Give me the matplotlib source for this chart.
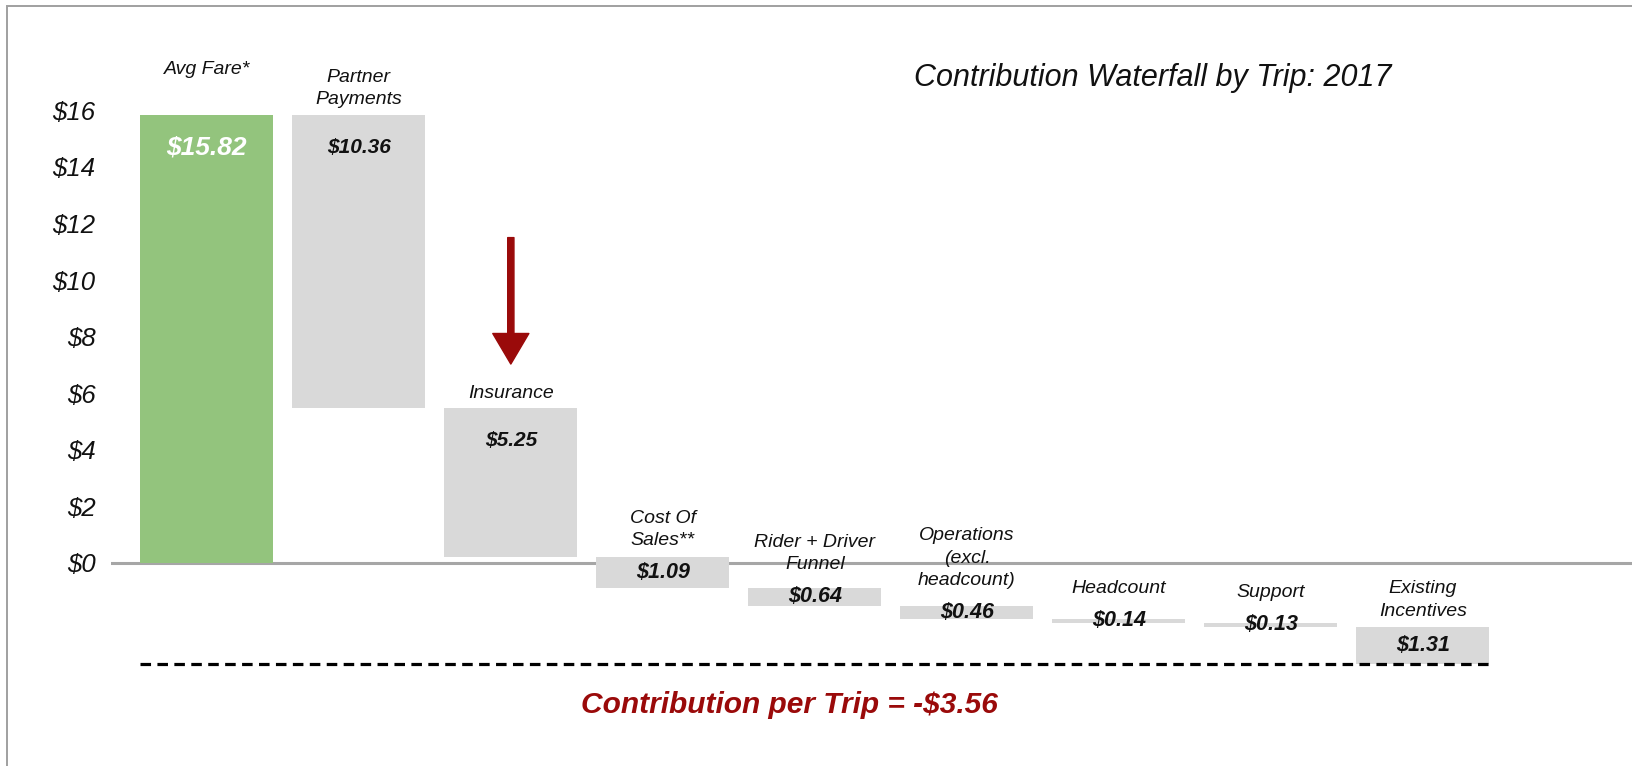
import matplotlib
matplotlib.use("Agg")
import matplotlib.pyplot as plt
from matplotlib.patches import Rectangle, FancyArrowPatch, ArrowStyle
import numpy as np

plt.rcParams["font.family"] = ["Liberation Sans", "DejaVu Sans"]

# ---- data -------------------------------------------------------------
categories = [
    "Avg Fare*",
    "Partner\nPayments",
    "Insurance",
    "Cost Of\nSales**",
    "Rider + Driver\nFunnel",
    "Operations\n(excl.\nheadcount)",
    "Headcount",
    "Support",
    "Existing\nIncentives",
]
amounts = [15.82, -10.36, -5.25, -1.09, -0.64, -0.46, -0.14, -0.13, -1.31]
contribution = -3.56
y_ticks = [0, 2, 4, 6, 8, 10, 12, 14, 16]
title = "Contribution Waterfall by Trip: 2017"

# ---- style --------------------------------------------------------------
GREEN = "#93c47d"
GREY = "#d9d9d9"
DARK_RED = "#9a0a0a"
AXIS_GREY = "#a6a6a6"
TEXT = "#111111"
BAR_W = 0.875

W, H, DPI = 1632, 766, 100
fig = plt.figure(figsize=(W / DPI, H / DPI), dpi=DPI)
fig.patch.set_facecolor("white")

ax_left = 111 / W
ax = fig.add_axes([ax_left, 0.0, 1.0 - ax_left, 1.0])
ax.set_xlim(-0.63, 9.375)
ax.set_ylim(-7.18, 19.90)
ax.set_facecolor("none")
for s in ax.spines.values():
    s.set_visible(False)

# outer frame (left and top edges visible)
fig.add_artist(Rectangle((7 / W, -0.2), 1.2, 1.2 - 6 / H,
                         transform=fig.transFigure, fill=False,
                         edgecolor="#a0a0a0", linewidth=1.4, clip_on=False))

# zero line
ax.axhline(0, color=AXIS_GREY, linewidth=2.2, zorder=1)

# waterfall geometry
x = np.arange(len(amounts))
ends = np.cumsum(amounts)
starts = np.concatenate([[0.0], ends[:-1]])
bottoms = np.minimum(starts, ends)
heights = np.abs(amounts)
colors = [GREEN] + [GREY] * (len(amounts) - 1)

ax.bar(x, heights, bottom=bottoms, width=BAR_W, color=colors,
       edgecolor="none", zorder=2)

# pixels per data unit (for label spacing)
px_per_unit = (fig.get_figheight() * DPI) / (ax.get_ylim()[1] - ax.get_ylim()[0])

for i, (a, b, h) in enumerate(zip(amounts, bottoms, heights)):
    top = b + h
    label = f"${abs(a):.2f}"
    if h >= 2:
        # value shown inside the bar, near its top
        ax.annotate(label, (i, top), xytext=(0, -23), textcoords="offset points",
                    ha="center", va="center",
                    fontsize=19 if i == 0 else 15,
                    fontweight="bold", fontstyle="italic",
                    color="white" if i == 0 else TEXT, zorder=4)
        # the first heading sits level with its neighbour's top line
        cat_off = 27 if i == 0 else 5
    else:
        ax.annotate(label, (i, b + h / 2), xytext=(0, 0), textcoords="offset points",
                    ha="center", va="center", fontsize=15.5,
                    fontweight="bold", fontstyle="italic",
                    color=TEXT, zorder=4)
        half_pt = h * px_per_unit * 72 / DPI / 2
        cat_off = max(5, 17 - half_pt)
    ax.annotate(categories[i], (i, top), xytext=(0, cat_off),
                textcoords="offset points", ha="center", va="bottom",
                fontsize=14, fontstyle="italic", color=TEXT,
                linespacing=1.4, zorder=4)

# running total line and contribution label
ax.plot([x[0] - BAR_W / 2, x[-1] + BAR_W / 2], [contribution, contribution],
        color="black", linewidth=2.3, linestyle=(0, (3.3, 2.0)), zorder=3)
ax.annotate(f"Contribution per Trip = -${abs(contribution):.2f}",
            (3.83, contribution), xytext=(0, -20), textcoords="offset points",
            ha="center", va="top", fontsize=21.5, fontweight="bold",
            fontstyle="italic", color=DARK_RED)

# arrow highlighting the insurance cost
ins = categories.index("Insurance")
arrow = FancyArrowPatch((ins, 11.5), (ins, 7.03), mutation_scale=1,
                        arrowstyle=ArrowStyle.Simple(head_length=22, head_width=26,
                                                     tail_width=4.5),
                        color=DARK_RED, shrinkA=0, shrinkB=0, zorder=4)
ax.add_patch(arrow)

# y axis
ax.set_xticks([])
ax.set_yticks(y_ticks)
ax.set_yticklabels([f"${t}" for t in y_ticks], fontsize=18.5, fontstyle="italic",
                   color=TEXT)
ax.tick_params(axis="y", length=0, pad=11)

# title
fig.text(1153 / W, 1 - 78 / H, title, ha="center", va="center",
         fontsize=22, fontstyle="italic", color=TEXT)

fig.savefig("out.png", dpi=DPI, facecolor="white")
